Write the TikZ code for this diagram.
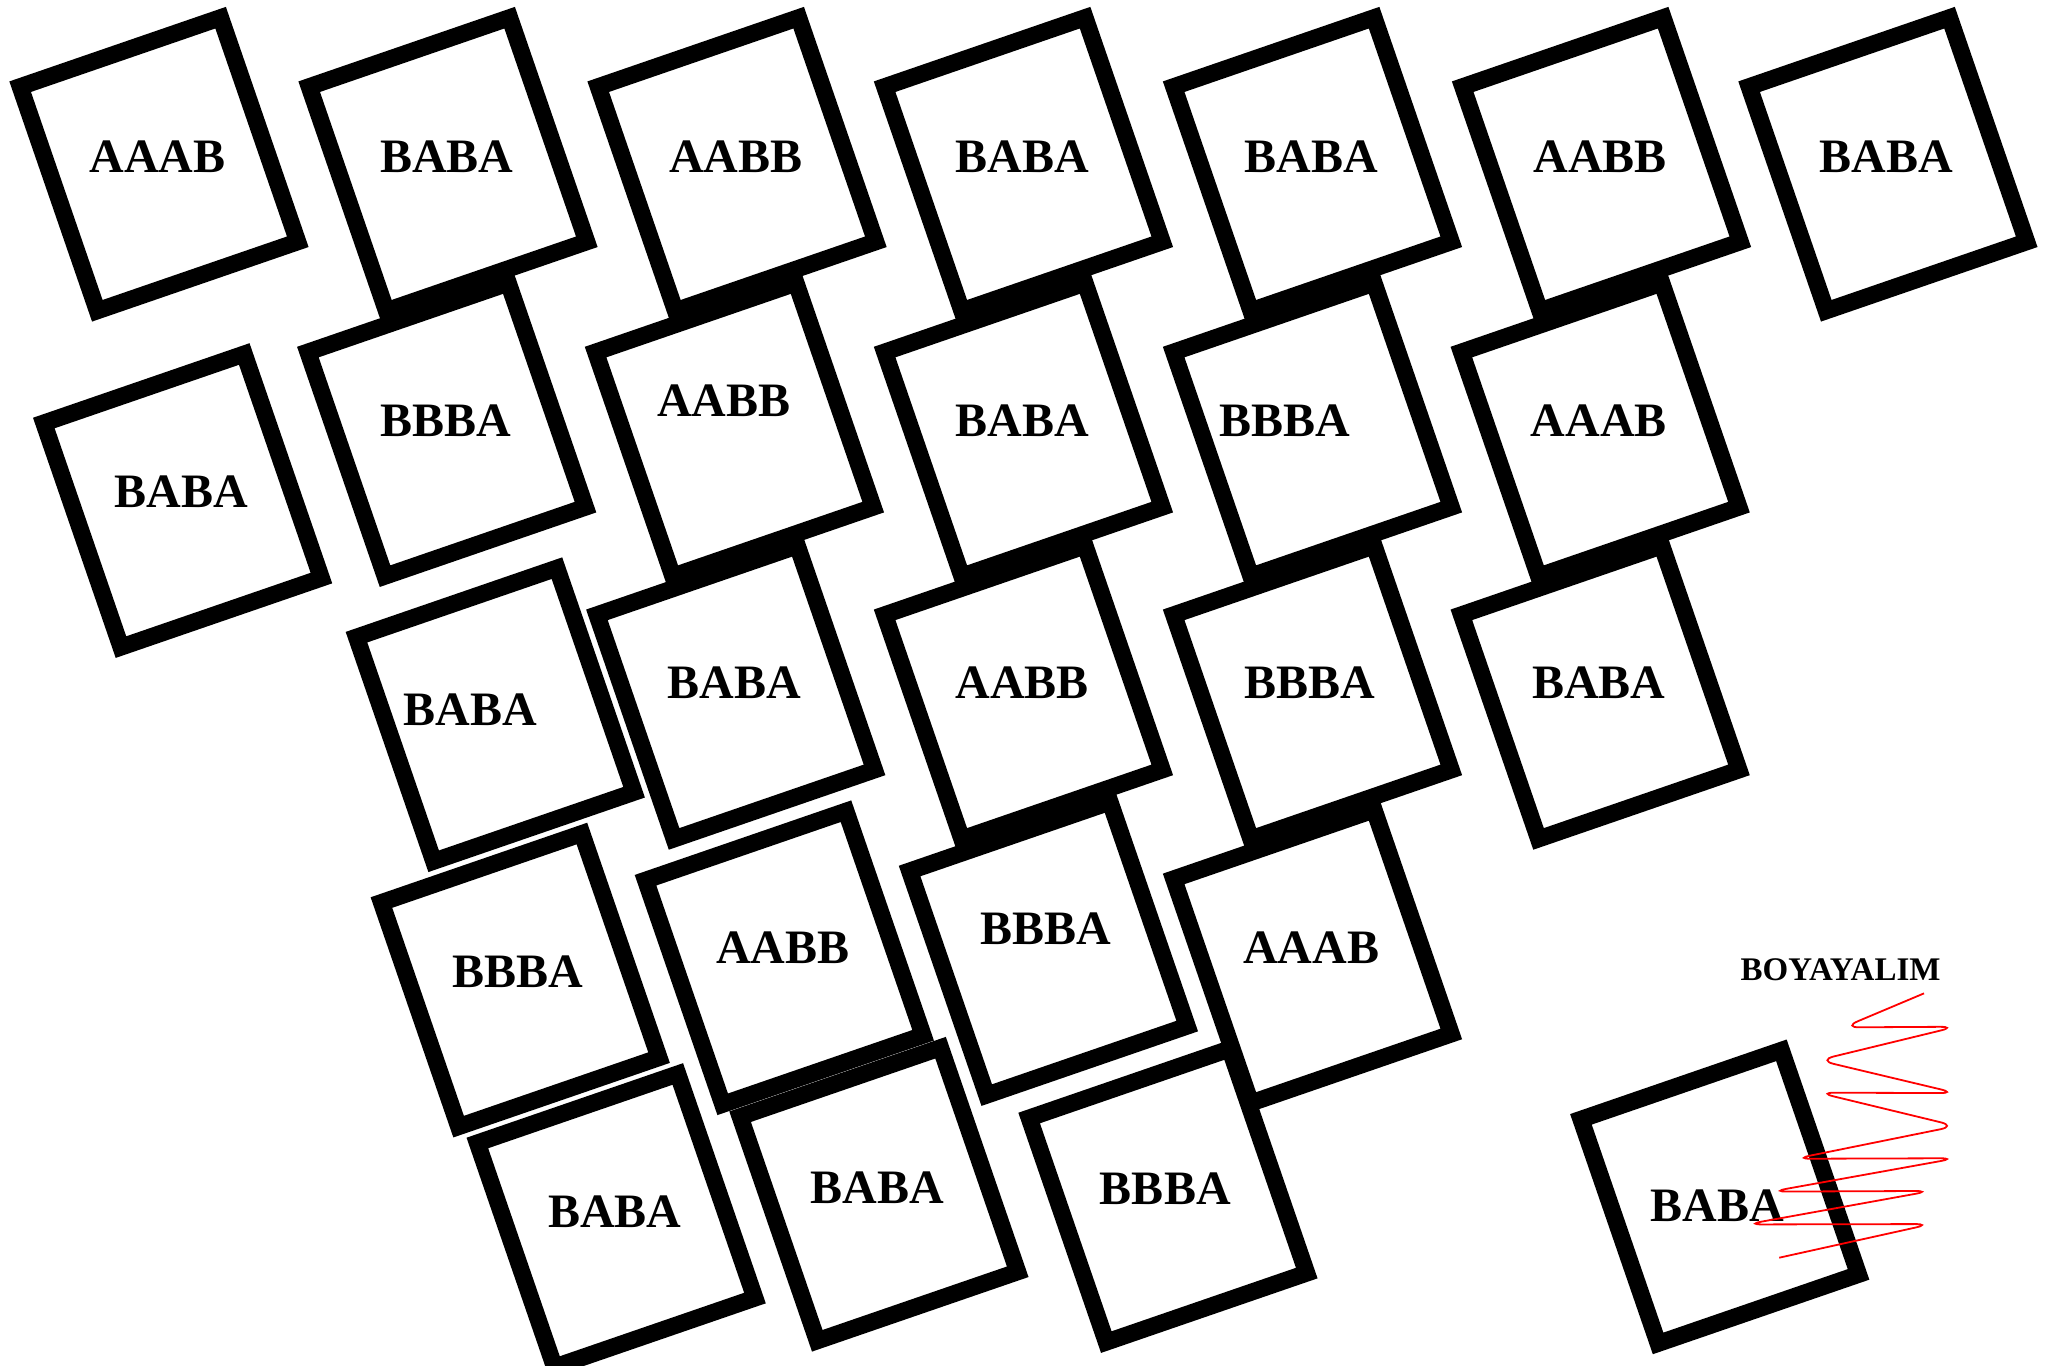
\documentclass[tikz,border=0pt]{standalone}
\usepackage{fontspec}
\setmainfont{Liberation Serif}
\usetikzlibrary{positioning}
\definecolor{inkred}{HTML}{FF0000}
\newcommand{\cardfont}{\fontsize{48}{58}\selectfont\bfseries}
\newcommand{\tagfont}{\fontsize{33}{40}\selectfont\bfseries}

\begin{document}
\begin{tikzpicture}[x=1.3138pt, y=-1.3138pt,
    card/.style={draw=black, fill=white, line width=17pt, rotate=19,
                 minimum width=212pt, minimum height=237pt, inner sep=0pt},
    word/.style={font=\cardfont, inner sep=0pt}]
    \useasboundingbox (0,0) rectangle (1568,1039);
    % cards: name / card centre / label centre / label
    \foreach \nm/\bx/\by/\lx/\ly/\txt in {
        a1/121/125/120/119/AAAB, a2/341/125/340/119/BABA, a3/561/125/560/119/AABB,
        a4/779/125/778/119/BABA, a5/999/125/998/119/BABA, a6/1219/125/1218/119/AABB,
        a7/1437/125/1436/119/BABA,
        b1/139/381/138/374/BABA, b2/340/327/339/320/BBBA, b3/559/327/551/305/AABB,
        b4/779/327/778/320/BABA, b5/999/327/978/320/BBBA, b6/1218/327/1217/320/AAAB,
        c1/377/544/358/540/BABA, c2/560/527/559/520/BABA, c3/779/527/778/520/AABB,
        c4/999/527/997/520/BBBA, c5/1218/527/1217/520/BABA,
        d1/396/746/394/740/BBBA, d2/597/729/596/721/AABB, d3/798/722/796/707/BBBA,
        d4/999/728/998/721/AAAB,
        e1/469/929/468/922/BABA, e2/669/909/668/904/BABA, e3/889/910/887/905/BBBA,
        f1/1309/911/1307/918/BABA}
    {
        \node[card] (\nm) at (\bx,\by) {};
        \node[word] (\nm-t) at (\lx,\ly) {\txt};
    }
    % colouring hint
    \node[font=\tagfont, inner sep=0pt] (tag) at (1401,738) {BOYAYALIM};
    \draw[inkred, line width=1.8pt, rounded corners=16pt]
        (1464.5,756.1) -- (1403,782) -- (1489,781.5) -- (1384,807)
        -- (1489,832) -- (1384,831.7) -- (1489,857.1) -- (1366,882)
        -- (1489,881.6) -- (1348,907) -- (1470,906.5) -- (1329,932)
        -- (1470,931.7) -- (1354.3,957.3);
\end{tikzpicture}
\end{document}
